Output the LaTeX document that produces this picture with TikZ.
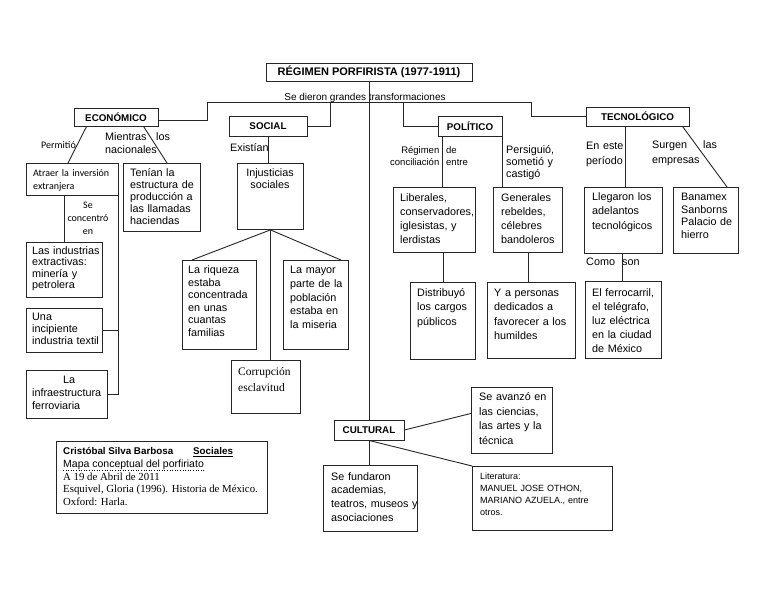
\documentclass[tikz,border=0pt]{standalone}
\usepackage{fontspec}
\setmainfont{Liberation Sans}
\newfontfamily\calfont{Carlito}
\newfontfamily\serfont{Liberation Serif}
\newcommand{\fz}[2]{\fontsize{#1}{#2}\selectfont}
\newcommand{\mkbox}[5]{\node[box, minimum width={#4-#2}, minimum height={#5-#3}] (#1) at (#2,#3) {};}
\tikzset{
  box/.style={draw=black!85, line width=0.9pt, inner sep=0pt, anchor=north west},
  lbl/.style={draw=black!85, line width=0.9pt, inner sep=0pt, font=\bfseries\fz{9.8}{11}},
  tx/.style={anchor=base west, align=left, inner sep=0pt, text width=200pt, font=\fz{10.8}{14}},
  con/.style={draw=black!85, line width=0.9pt},
}
\begin{document}
\begin{tikzpicture}[x=1pt,y=-1pt]
\useasboundingbox[fill=white] (0,0) rectangle (768,593);

% ---------- header ----------
\node[lbl, minimum width=206, minimum height=18, font=\bfseries\fz{11}{12}] (title) at (369,72) {RÉGIMEN PORFIRISTA (1977-1911)};
\node[lbl, minimum width=84, minimum height=18] (econ) at (116,117) {ECONÓMICO};
\node[lbl, minimum width=78, minimum height=20] (social) at (268,126) {SOCIAL};
\node[lbl, minimum width=64, minimum height=20] (pol) at (470,126) {POLÍTICO};
\node[lbl, minimum width=103, minimum height=19] (tecno) at (637.5,116.5) {TECNOLÓGICO};
\node[lbl, minimum width=70, minimum height=20] (cult) at (369,430) {CULTURAL};

\coordinate (jl) at (207,102);
\coordinate (jr) at (531,102);
\coordinate (js) at (330,102);
\coordinate (jp) at (403,102);

\node[inner sep=0pt, anchor=base, font=\fz{10}{12}] (sedieron) at (365,101) {Se dieron grandes transformaciones};

\draw[con] ([yshift=-3pt]econ.east) -| (jl) -- (jr) |- (tecno.west);
\draw[con] (js) |- (social.east);
\draw[con] (jp) |- (pol.west);
\draw[con] (title.south) -- (cult.north);

% ---------- boxes ----------
\mkbox{atraer}{26}{163}{118}{195}
\mkbox{tenian}{123}{163}{200}{231}
\mkbox{indus}{26}{242}{102}{297}
\mkbox{una}{26}{308}{102}{352}
\mkbox{infra}{26}{370}{107}{418}
\mkbox{inj}{237}{163}{303}{229}
\mkbox{riq}{182}{260}{256}{349}
\mkbox{mayor}{283}{260}{348}{349}
\mkbox{corr}{231}{360}{300}{413}
\mkbox{lib}{393}{187}{475}{252}
\mkbox{gen}{493}{187}{562}{252}
\mkbox{dist}{410}{282}{475}{359}
\mkbox{pers}{487}{282}{575}{358}
\mkbox{ferro}{585}{281}{661}{358}
\mkbox{lleg}{584}{187}{662}{253}
\mkbox{bana}{673}{187}{738}{253}
\mkbox{avz}{471}{387}{552}{453}
\mkbox{fund}{323}{465}{417}{531}
\mkbox{lit}{472}{466}{612}{530}
\mkbox{autor}{56}{441}{267}{513}

% ---------- ECONOMICO ----------
\draw[con] ([xshift=13pt]econ.south west) -- ([xshift=42pt]atraer.north west);
\draw[con] ([xshift=70pt]econ.south west) -- ([xshift=44pt]tenian.north west);
\draw[con] ([xshift=38pt]atraer.south west) -- ([xshift=38pt]indus.north west);
\draw[con] (atraer.south east) |- (infra.east);
\draw[con] (una.east) -- (una.east -| atraer.east);

\node[tx, anchor=base, align=center, text width=50pt, font=\calfont\fz{10}{12}] (permitio) at (58.5,149) {Permitió};
\node[tx] (mientras) at (105,140.5) {Mientras};
\node[tx] (los) at (156,140.5) {los};
\node[tx] (nacionales) at (105,153.5) {nacionales};
\node[tx, font=\calfont\fz{10}{13}] (t-atraer) at (33,176.5) {Atraer la inversión\\extranjera};
\node[tx, font=\fz{10.8}{12}] (t-tenian) at (130,176.5) {Tenían la\\estructura de\\producción a\\las llamadas\\haciendas};
\node[tx, anchor=base, align=center, text width=60pt, font=\calfont\fz{10}{13}] (t-conc) at (88,209) {Se\\concentró\\en};
\node[tx, font=\fz{10.8}{11.4}] (t-indus) at (32,254.5) {Las industrias\\extractivas:\\minería y\\petrolera};
\node[tx, font=\fz{10.8}{12}] (t-una) at (32,320.5) {Una\\incipiente\\industria textil};
\node[tx, font=\fz{10.8}{13}] (t-infra) at (32,383.5) {\hspace*{31pt}La\\infraestructura\\ferroviaria};

% ---------- SOCIAL ----------
\draw[con] (social.south) -- (social.south |- inj.north);
\draw[con] (inj.south) -- ([xshift=10pt]riq.north west);
\draw[con] (inj.south) -- ([xshift=-8pt]mayor.north east);
\draw[con] (inj.south) -- (inj.south |- corr.north);

\node[tx] (existian) at (230,151.5) {Existían};
\node[tx, anchor=base, align=center, text width=66pt, font=\fz{10.8}{12.5}] (t-inj) at (270,176.5) {Injusticias\\sociales};
\node[tx, font=\fz{10.8}{12.6}] (t-riq) at (188,273.5) {La riqueza\\estaba\\concentrada\\en unas\\cuantas\\familias};
\node[tx, font=\fz{10.8}{13.8}] (t-mayor) at (290,273.5) {La mayor\\parte de la\\población\\estaba en\\la miseria};
\node[tx, font=\serfont\fz{11.5}{16}] (t-corr) at (238,375) {Corrupción\\esclavitud};

% ---------- POLITICO ----------
\coordinate (p1) at ([xshift=5pt]pol.south west);
\draw[con] (p1) -- (p1 |- lib.north);
\draw[con] (pol.south east) -- (pol.south east |- gen.north);
\coordinate (l1) at ([xshift=50pt]lib.south west);
\draw[con] (l1) -- (l1 |- dist.north);
\coordinate (g1) at ([xshift=35pt]gen.south west);
\draw[con] (g1) -- (g1 |- pers.north);

\node[inner sep=0pt, anchor=base east, font=\fz{9.5}{12}] (regimen) at (439.5,154) {Régimen};
\node[inner sep=0pt, anchor=base west, font=\fz{9.5}{12}] (de) at (446,154) {de};
\node[inner sep=0pt, anchor=base east, font=\fz{9.5}{12}] (concil) at (439.5,166) {conciliación};
\node[inner sep=0pt, anchor=base west, font=\fz{9.5}{12}] (entre) at (446,166) {entre};
\node[tx, font=\fz{10.8}{12}] (persig) at (506,153.5) {Persiguió,\\sometió y\\castigó};
\node[tx] (t-lib) at (400,201.5) {Liberales,\\conservadores,\\iglesistas, y\\lerdistas};
\node[tx] (t-gen) at (501,201.5) {Generales\\rebeldes,\\célebres\\bandoleros};
\node[tx, font=\fz{10.8}{14.5}] (t-dist) at (417,296.5) {Distribuyó\\los cargos\\públicos};
\node[tx, font=\fz{10.8}{14.3}] (t-pers) at (494,296.5) {Y a personas\\dedicados a\\favorecer a los\\humildes};

% ---------- TECNOLOGICO ----------
\coordinate (t1) at ([xshift=40pt]tecno.south west);
\draw[con] (t1) -- (t1 |- lleg.north);
\draw[con] ([xshift=97pt]tecno.south west) -- ([xshift=54pt]bana.north west);
\coordinate (ll1) at ([xshift=38pt]lleg.south west);
\draw[con] (ll1) -- (ll1 |- ferro.north);

\node[tx, font=\fz{10.8}{15}] (eneste) at (586,149.5) {En este\\período};
\node[tx] (surgen) at (652,148.5) {Surgen};
\node[tx] (las) at (703,148.5) {las};
\node[tx] (empresas) at (652,163.5) {empresas};
\node[tx, font=\fz{10.8}{14.5}] (t-lleg) at (592,200.5) {Llegaron los\\adelantos\\tecnológicos};
\node[tx, font=\fz{10.8}{12.7}] (t-bana) at (681,200.5) {Banamex\\Sanborns\\Palacio de\\hierro};
\node[tx] (como) at (586,265.5) {Como};
\node[tx] (son) at (622,265.5) {son};
\node[tx] (t-ferro) at (592,296.5) {El ferrocarril,\\el telégrafo,\\luz eléctrica\\en la ciudad\\de México};

% ---------- CULTURAL ----------
\draw[con] (cult.south) -- (cult.south |- fund.north);
\draw[con] (cult.east) -- ([yshift=7pt]avz.west);
\draw[con] (cult.south) -- (lit.north west);

\node[tx, font=\fz{10.8}{14.7}] (t-avz) at (479,400.5) {Se avanzó en\\las ciencias,\\las artes y la\\técnica};
\node[tx, font=\fz{10.8}{13.7}] (t-fund) at (331,480) {Se fundaron\\academias,\\teatros, museos y\\asociaciones};
\node[tx, font=\fz{9}{12.3}] (t-lit) at (480,479) {Literatura:\\MANUEL JOSE OTHON,\\MARIANO AZUELA., entre\\otros.};

% ---------- author ----------
\node[inner sep=0pt, anchor=base west, font=\bfseries\fz{9.8}{11}] (autor1) at (63,454.5) {Cristóbal Silva Barbosa};
\node[inner sep=0pt, anchor=base west, font=\bfseries\fz{9.8}{11}] (autor2) at (193,454.5) {\underline{Sociales}};
\node[inner sep=0pt, anchor=base west, font=\fz{10.5}{12}] (mapa) at (63,467) {Mapa conceptual del porfiriato};
\draw[dotted, line width=0.6pt] ([yshift=-0.5pt]mapa.south west) -- ([yshift=-0.5pt]mapa.south east);
\node[inner sep=0pt, anchor=base west, font=\serfont\fz{10.8}{11}] (fecha) at (63,480) {A 19 de Abril de 2011};
\node[inner sep=0pt, anchor=base west, font=\serfont\fz{10.8}{11}] (ref1) at (63,492.5) {Esquivel, Gloria (1996). Historia de México.};
\node[inner sep=0pt, anchor=base west, font=\serfont\fz{10.8}{11}] (ref2) at (63,505) {Oxford: Harla.};
\end{tikzpicture}
\end{document}
